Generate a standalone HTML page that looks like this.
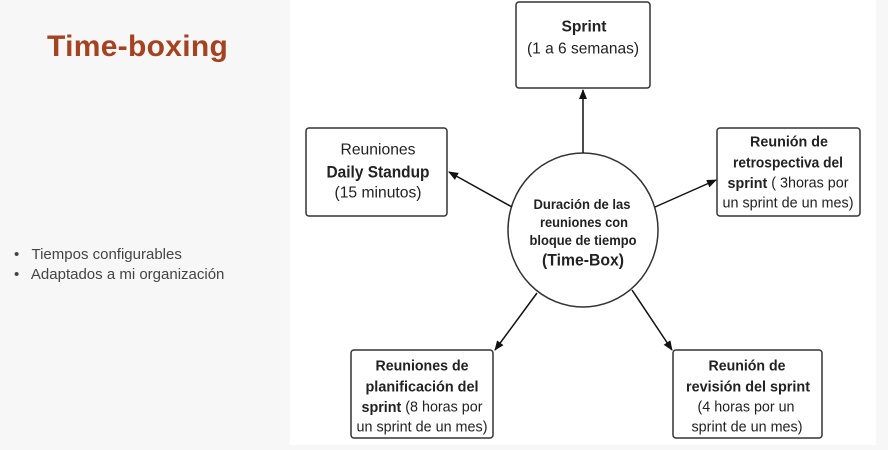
<!DOCTYPE html>
<html><head><meta charset="utf-8"><style>
body{margin:0;width:888px;height:450px;overflow:hidden;background:#f7f7f7;font-family:"Liberation Sans",sans-serif;position:relative}
.t{position:absolute;left:47px;top:30px;font-size:30px;font-weight:bold;color:#a5421f;letter-spacing:0.3px}
.b{position:absolute;left:14px;top:245px;font-size:15px;color:#444;line-height:20px}
.panel{position:absolute;left:290px;top:0;width:586px;height:445px;background:#fff}
</style></head><body>
<div class="t">Time-boxing</div>
<div class="b">•&nbsp;&nbsp; Tiempos configurables<br>•&nbsp;&nbsp; Adaptados a mi organización</div>
<div class="panel"></div>
<svg width="888" height="450" style="position:absolute;left:0;top:0" font-family="Liberation Sans, sans-serif" text-anchor="middle" fill="#222" dominant-baseline="central">
<defs><marker id="a" markerWidth="10" markerHeight="8" refX="9" refY="4" orient="auto" markerUnits="userSpaceOnUse"><path d="M0,0L10,4L0,8z" fill="#111"/></marker></defs>
<g fill="#fff" stroke="#333" stroke-width="1.5">
<rect x="516" y="2" width="134" height="86" rx="3"/>
<rect x="306" y="128" width="141" height="88" rx="3"/>
<rect x="717" y="128" width="143" height="88" rx="3"/>
<rect x="351" y="350" width="142" height="88" rx="3"/>
<rect x="673" y="350" width="149" height="88" rx="3"/>
<ellipse cx="583" cy="230" rx="75" ry="77"/>
</g>
<g stroke="#111" stroke-width="1.5" marker-end="url(#a)">
<line x1="583" y1="153" x2="583" y2="90"/>
<line x1="512" y1="207" x2="449" y2="172"/>
<line x1="655" y1="207" x2="716" y2="180"/>
<line x1="537" y1="293" x2="495" y2="350"/>
<line x1="632" y1="290" x2="672" y2="350"/>
</g>
<g font-size="15">
<text x="584" y="27" font-weight="bold" font-size="16" textLength="45" lengthAdjust="spacingAndGlyphs">Sprint</text>
<text x="583" y="49" font-size="16" textLength="112" lengthAdjust="spacingAndGlyphs">(1 a 6 semanas)</text>
<text x="378" y="150" font-size="16" textLength="75" lengthAdjust="spacingAndGlyphs">Reuniones</text>
<text x="378" y="172" font-weight="bold" font-size="17" textLength="103" lengthAdjust="spacingAndGlyphs">Daily Standup</text>
<text x="378" y="193" font-size="16" textLength="87" lengthAdjust="spacingAndGlyphs">(15 minutos)</text>
<text x="789" y="142" font-weight="bold" textLength="78" lengthAdjust="spacingAndGlyphs">Reunión de</text>
<text x="788" y="163" font-weight="bold" textLength="110" lengthAdjust="spacingAndGlyphs">retrospectiva del</text>
<text x="788" y="183" textLength="121" lengthAdjust="spacingAndGlyphs"><tspan font-weight="bold">sprint</tspan> ( 3horas por</text>
<text x="788" y="203" textLength="131" lengthAdjust="spacingAndGlyphs">un sprint de un mes)</text>
<text x="422" y="366" font-weight="bold" textLength="93" lengthAdjust="spacingAndGlyphs">Reuniones de</text>
<text x="422" y="387" font-weight="bold" textLength="113" lengthAdjust="spacingAndGlyphs">planificación del</text>
<text x="422" y="407" textLength="121" lengthAdjust="spacingAndGlyphs"><tspan font-weight="bold">sprint</tspan> (8 horas por</text>
<text x="422" y="427" textLength="131" lengthAdjust="spacingAndGlyphs">un sprint de un mes)</text>
<text x="747" y="366" font-weight="bold" textLength="77" lengthAdjust="spacingAndGlyphs">Reunión de</text>
<text x="748" y="387" font-weight="bold" textLength="124" lengthAdjust="spacingAndGlyphs">revisión del sprint</text>
<text x="746" y="407" textLength="97" lengthAdjust="spacingAndGlyphs">(4 horas por un</text>
<text x="747" y="427" textLength="111" lengthAdjust="spacingAndGlyphs">sprint de un mes)</text>
<text x="582" y="204" font-weight="bold" font-size="14" textLength="97" lengthAdjust="spacingAndGlyphs">Duración de las</text>
<text x="584" y="222" font-weight="bold" font-size="14" textLength="88" lengthAdjust="spacingAndGlyphs">reuniones con</text>
<text x="583" y="240" font-weight="bold" font-size="14" textLength="107" lengthAdjust="spacingAndGlyphs">bloque de tiempo</text>
<text x="583" y="260" font-weight="bold" font-size="17" textLength="82" lengthAdjust="spacingAndGlyphs">(Time-Box)</text>
</g>
</svg>
</body></html>
